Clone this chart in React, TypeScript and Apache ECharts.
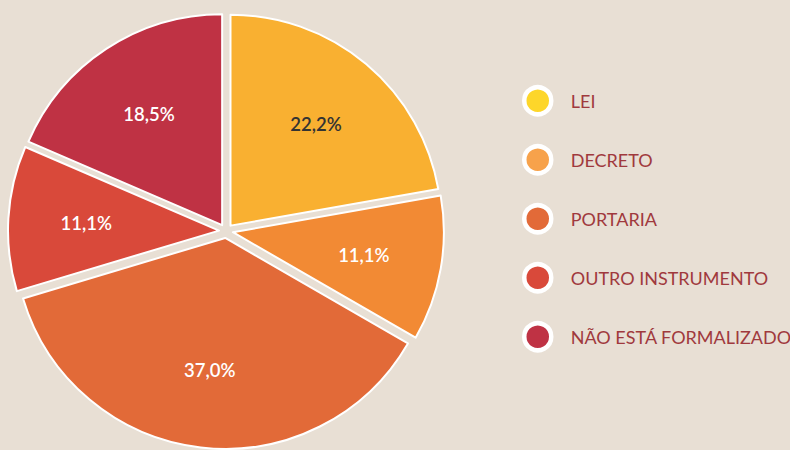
import React, { useEffect, useRef } from "react";
import * as echarts from "echarts";

const categories = ["LEI", "DECRETO", "PORTARIA", "OUTRO INSTRUMENTO", "NÃO ESTÁ FORMALIZADO"];
const values = [22.2, 11.1, 37.0, 11.1, 18.5];
const sliceColors = ["#f9b031", "#f28a34", "#e26a38", "#d9493a", "#bf3244"];
const legendColors = ["#fdd62a", "#f7a24b", "#e26a38", "#d9493a", "#bf3244"];
const labelColors = ["#333333", "#ffffff", "#ffffff", "#ffffff", "#ffffff"];

export default function App() {
  const ref = useRef<HTMLDivElement>(null);
  useEffect(() => {
    if (!ref.current) return;
    const chart = echarts.init(ref.current, undefined, { renderer: "svg" });
    const fmt = (v: number) => v.toFixed(1).replace(".", ",") + "%";
    chart.setOption({
      animation: false,
      backgroundColor: "#e8dfd4",
      legend: {
        orient: "vertical",
        left: 517,
        top: 80,
        itemWidth: 56,
        itemHeight: 27,
        itemGap: 27.5,
        icon: "circle",
        selectedMode: false,
        itemStyle: { borderColor: "#ffffff", borderWidth: 4.5 },
        textStyle: { color: "#a0393d", fontSize: 18, fontFamily: "Lato" },
        data: categories.map((c, i) => ({ name: c, itemStyle: { color: legendColors[i] } })),
      },
      series: [
        {
          type: "pie",
          center: [226, 231],
          radius: [0, 211],
          startAngle: 90,
          clockwise: true,
          selectedMode: "multiple",
          selectedOffset: 7,
          label: { show: false },
          labelLine: { show: false },
          emphasis: { disabled: true },
          itemStyle: { borderColor: "#ffffff", borderWidth: 2 },
          select: { itemStyle: { borderColor: "#ffffff", borderWidth: 2 } },
          data: categories.map((c, i) => ({
            name: c,
            value: values[i],
            selected: true,
            itemStyle: { color: sliceColors[i] },
          })),
        },
        {
          type: "pie",
          center: [226, 231],
          radius: [63, 211],
          startAngle: 90,
          clockwise: true,
          silent: true,
          selectedMode: false,
          emphasis: { disabled: true },
          itemStyle: { color: "rgba(0,0,0,0)", borderWidth: 0 },
          labelLine: { show: false },
          label: {
            show: true,
            position: "inside",
            fontFamily: "Lato",
            fontSize: 18.5,
            fontWeight: 600,
          },
          data: categories.map((c, i) => ({
            name: c,
            value: values[i],
            label: { color: labelColors[i], formatter: fmt(values[i]) },
          })),
        },
      ],
    });
    return () => chart.dispose();
  }, []);
  return (
    <div
      ref={ref}
      style={{ position: "fixed", left: 0, top: 0, width: 790, height: 450 }}
    />
  );
}
